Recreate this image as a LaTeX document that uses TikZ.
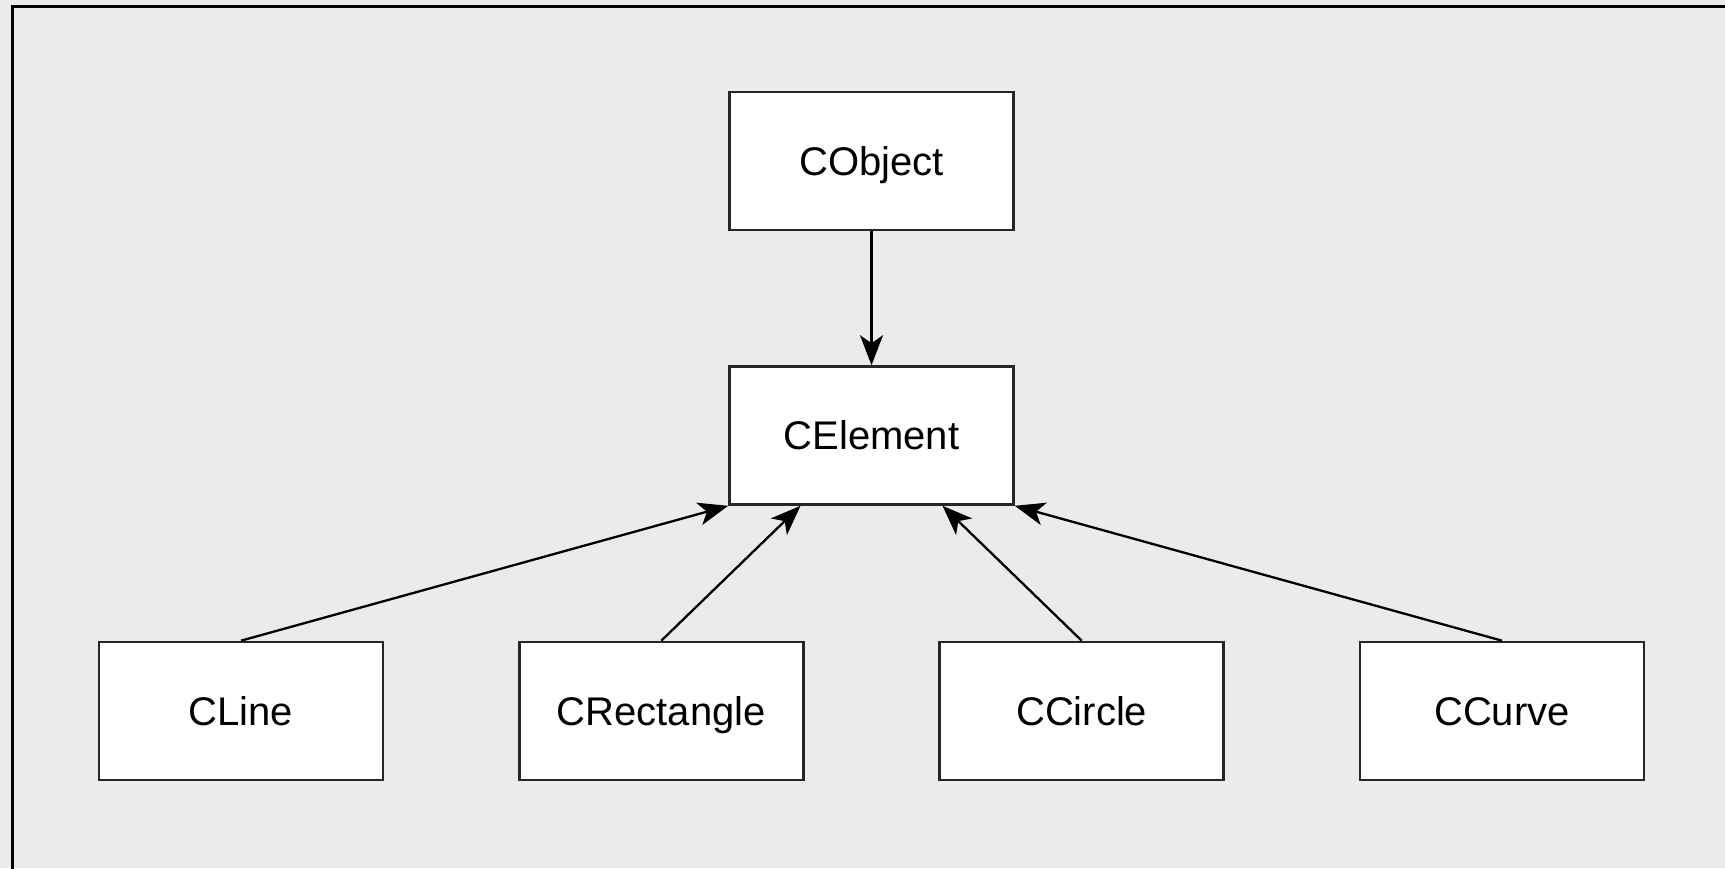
\documentclass[tikz,border=0pt]{standalone}
\usepackage{fontspec}
\setmainfont{Liberation Sans}
\usetikzlibrary{arrows.meta,calc}
\definecolor{bg}{HTML}{EBEBEB}
\begin{document}
\begin{tikzpicture}[x=0.5pt,y=-0.5pt,
  cls/.style={draw=black!85, line width=1.3pt, fill=white, minimum width=142pt, minimum height=69pt, inner sep=0pt, text height=14.3pt, text depth=0pt, font=\fontsize{20}{24}\selectfont},
  inh/.style={line width=1.15pt, -{Stealth[length=15pt,width=11.5pt,inset=4pt]}}]
\useasboundingbox (0,0) rectangle (1725,868);
\clip (0,0) rectangle (1725,868);
\fill[bg] (0,0) rectangle (1725,868);
\draw[line width=1.5pt] (12,900) -- (12,6) -- (1760,6);
\node[cls] (obj) at (871.5,161) {CObject};
\node[cls] (elem) at (871.5,435.5) {CElement};
\node[cls] (line) at (241,711) {CLine};
\node[cls] (rect) at (661.3,711) {CRectangle};
\node[cls] (circ) at (1081.7,711) {CCircle};
\node[cls] (curve) at (1502,711) {CCurve};
\draw[inh] (obj.south) -- (elem.north);
\draw[inh] (line.north) -- (elem.south west);
\draw[inh] (rect.north) -- ($(elem.south)+(-71,0)$);
\draw[inh] (circ.north) -- ($(elem.south)+(71,0)$);
\draw[inh] (curve.north) -- (elem.south east);
\end{tikzpicture}
\end{document}
